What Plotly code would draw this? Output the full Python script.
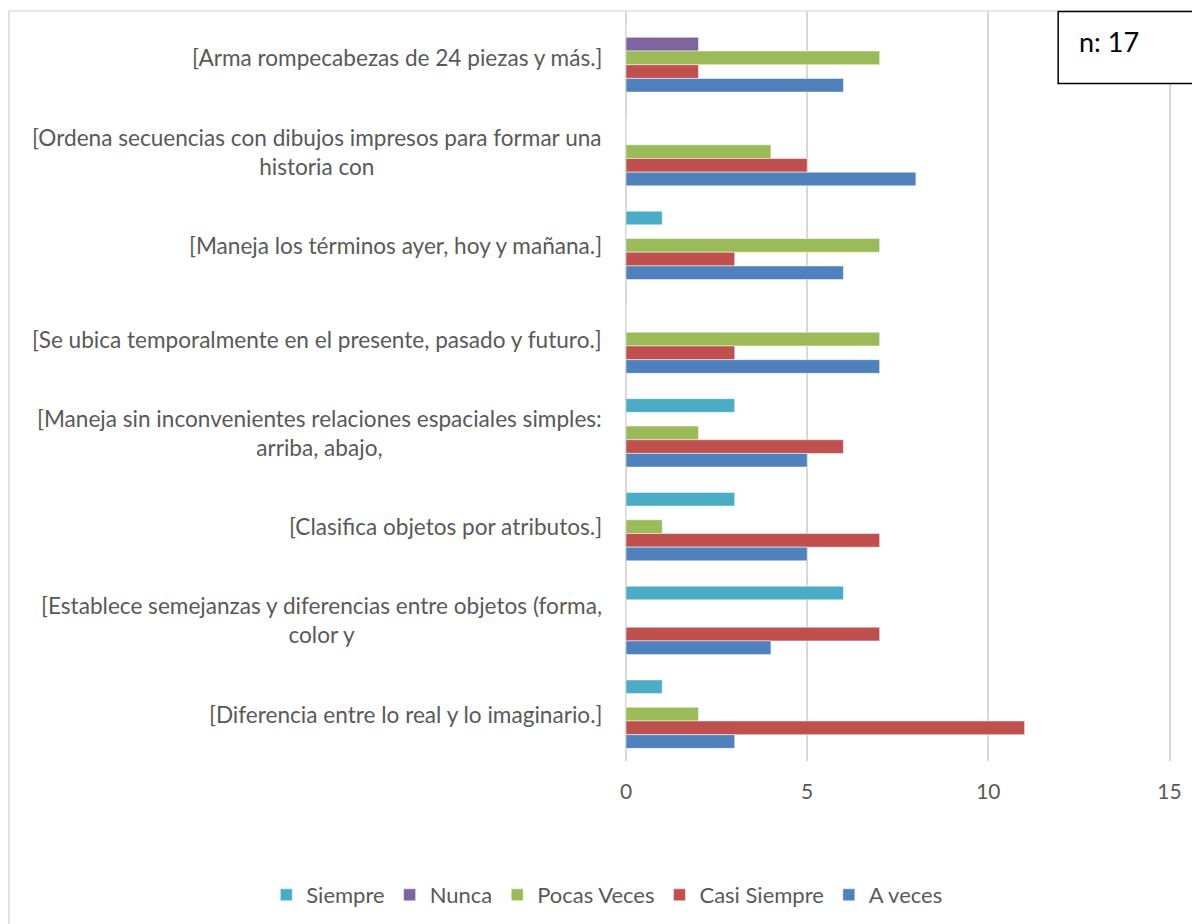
import plotly.graph_objects as go

categories = [
    "[Arma rompecabezas de 24 piezas y más.]",
    "[Ordena secuencias con dibujos impresos para formar una<br>historia con",
    "[Maneja los términos ayer, hoy y mañana.]",
    "[Se ubica temporalmente en el presente, pasado y futuro.]",
    "[Maneja sin inconvenientes relaciones espaciales simples:<br>arriba, abajo,",
    "[Clasifica objetos por atributos.]",
    "[Establece semejanzas y diferencias entre objetos (forma,<br>color y",
    "[Diferencia entre lo real y lo imaginario.]",
]
series_names = ["Siempre", "Nunca", "Pocas Veces", "Casi Siempre", "A veces"]
siempre = [0, 0, 1, 0, 3, 3, 6, 1]
nunca = [2, 0, 0, 0, 0, 0, 0, 0]
pocas_veces = [7, 4, 7, 7, 2, 1, 0, 2]
casi_siempre = [2, 5, 3, 3, 6, 7, 7, 11]
a_veces = [6, 8, 6, 7, 5, 5, 4, 3]
x_ticks = [0, 5, 10, 15]

values = [siempre, nunca, pocas_veces, casi_siempre, a_veces]
colors = ["#4BACC6", "#8064A2", "#9BBB59", "#C0504D", "#4F81BD"]

keys = [c.replace("<br>", " ") for c in categories]

# layout geometry (page pixels; the page has an 8px body offset)
X_MAX = 15.15
PX_PER_UNIT = 544 / 15.0
PLOT_W = PX_PER_UNIT * X_MAX
FIG_W, FIG_H = 1192, 916
M_L, M_T, M_B = 618, 3, 163
M_R = FIG_W - M_L - PLOT_W


def xp(px):
    return (px - 626) / PLOT_W


def yp(py):
    return (761 - py) / 750


fig = go.Figure()
for name, vals, col in zip(series_names, values, colors):
    fig.add_trace(go.Bar(
        y=keys, x=vals, name=name, orientation="h",
        marker=dict(color=col, line=dict(color="white", width=0.5)),
    ))

FONT = "Lato"
GREY = "#595959"

annotations = []
for key, lab in zip(keys, categories):
    annotations.append(dict(
        x=0, y=key, xref="x", yref="y", text=lab, showarrow=False,
        xanchor="right", yanchor="middle", align="center", xshift=-22,
        font=dict(family=FONT, size=22.6, color=GREY),
    ))
annotations.append(dict(
    x=xp(1077), y=yp(41), xref="paper", yref="paper",
    text="n: 17", showarrow=False, xanchor="left", yanchor="middle",
    font=dict(family=FONT, size=27, color="black"),
))

shapes = [
    dict(type="rect", xref="paper", yref="paper",
         x0=xp(8.5), x1=xp(1230), y0=yp(960), y1=yp(11),
         line=dict(color="#D0D0D0", width=1.2), layer="below"),
    dict(type="rect", xref="paper", yref="paper",
         x0=xp(1058.5), x1=xp(1230), y0=yp(83.5), y1=yp(11.5),
         line=dict(color="black", width=1.5), fillcolor="white", layer="above"),
]

fig.update_layout(
    width=FIG_W, height=FIG_H,
    margin=dict(l=M_L, r=M_R, t=M_T, b=M_B),
    paper_bgcolor="white", plot_bgcolor="white",
    barmode="group", bargap=0.27, bargroupgap=0,
    font=dict(family=FONT, size=22, color=GREY),
    xaxis=dict(range=[0, X_MAX], tickvals=x_ticks, showgrid=True,
               gridcolor="#D9D9D9", gridwidth=1.5,
               zeroline=True, zerolinecolor="#D9D9D9", zerolinewidth=1.5,
               showline=False, ticks="", ticklabelstandoff=16,
               tickfont=dict(family=FONT, size=21, color=GREY)),
    yaxis=dict(autorange="reversed", showticklabels=False, showgrid=False,
               zeroline=False, showline=False, ticks=""),
    showlegend=True,
    legend=dict(orientation="h", x=xp(266), y=yp(895),
                xanchor="left", yanchor="middle",
                font=dict(family=FONT, size=22, color=GREY)),
    annotations=annotations,
    shapes=shapes,
)

fig.write_html("out.html")
